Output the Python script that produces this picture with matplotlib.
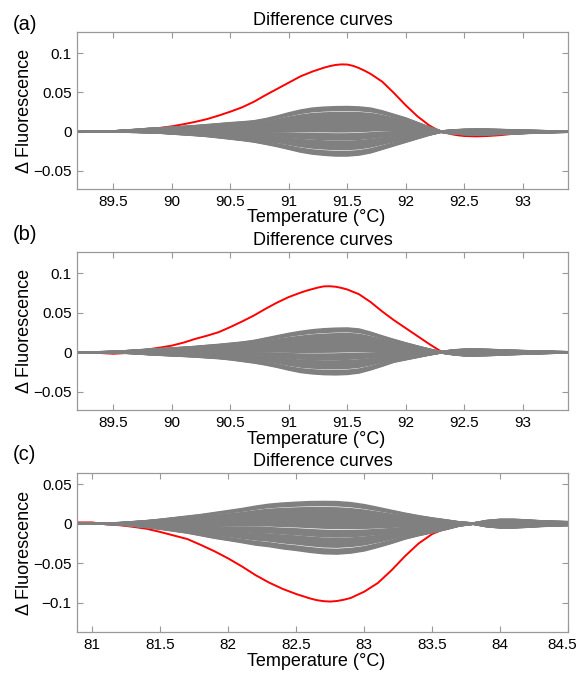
import matplotlib
matplotlib.use("Agg")
import matplotlib.pyplot as plt
import matplotlib.transforms as mtransforms
import numpy as np

plt.rcParams['font.family'] = ['Liberation Sans', 'DejaVu Sans']

# ---------------- data ----------------
temps_ab = [89.2, 89.3, 89.4, 89.5, 89.6, 89.7, 89.8, 89.9, 90.0, 90.1, 90.2,
            90.3, 90.4, 90.5, 90.6, 90.7, 90.8, 90.9, 91.0, 91.1, 91.2, 91.3,
            91.4, 91.5, 91.6, 91.7, 91.8, 91.9, 92.0, 92.1, 92.2, 92.3, 92.4,
            92.5, 92.6, 92.7, 92.8, 92.9, 93.0, 93.1, 93.2, 93.3, 93.4]

red_temps_a = [89.2, 89.3, 89.4, 89.5, 89.6, 89.7, 89.8, 89.9, 90.0, 90.1, 90.2,
               90.3, 90.4, 90.5, 90.6, 90.7, 90.8, 90.9, 91.0, 91.1, 91.2, 91.3,
               91.35, 91.4, 91.45, 91.5, 91.55, 91.6, 91.65, 91.7, 91.8, 91.9,
               92.0, 92.1, 92.2, 92.25, 92.3, 92.35, 92.4, 92.45, 92.5, 92.6,
               92.7, 92.8, 92.9, 93.0, 93.1, 93.2, 93.3, 93.4]
red_a = [0.0, 0.0, 0.0002, 0.0005, 0.001, 0.0018, 0.003, 0.0048, 0.0068, 0.0095,
         0.0125, 0.016, 0.0205, 0.0255, 0.031, 0.038, 0.0465, 0.0545, 0.0625,
         0.0705, 0.0765, 0.0815, 0.0835, 0.085, 0.0857, 0.0855, 0.0838, 0.081,
         0.0775, 0.0735, 0.0635, 0.049, 0.0335, 0.0195, 0.008, 0.0038, 0.0005,
         -0.0018, -0.0035, -0.0047, -0.0055, -0.006, -0.0055, -0.0045, -0.003,
         -0.002, -0.001, -0.0005, 0.0, 0.0]
upper_a = [0.0, 0.0002, 0.0005, 0.001, 0.002, 0.003, 0.0042, 0.005, 0.0058,
           0.0068, 0.0078, 0.009, 0.0102, 0.0115, 0.0125, 0.0138, 0.0165, 0.020,
           0.024, 0.0275, 0.030, 0.0312, 0.0318, 0.032, 0.0315, 0.030, 0.0265,
           0.022, 0.0175, 0.0118, 0.006, 0.0008, 0.0022, 0.003, 0.0033, 0.0032,
           0.0028, 0.0024, 0.002, 0.0016, 0.0012, 0.0009, 0.0006]
lower_a = [0.0, -0.0001, -0.0002, -0.0004, -0.0007, -0.001, -0.0015, -0.002,
           -0.003, -0.004, -0.005, -0.0062, -0.0078, -0.0095, -0.0112, -0.0132,
           -0.016, -0.019, -0.0225, -0.026, -0.0285, -0.030, -0.031, -0.031,
           -0.0298, -0.027, -0.0225, -0.018, -0.0135, -0.009, -0.0045, -0.0008,
           -0.0028, -0.0038, -0.0042, -0.004, -0.0035, -0.003, -0.0024, -0.0019,
           -0.0014, -0.001, -0.0007]

red_temps_b = [89.2, 89.3, 89.4, 89.5, 89.6, 89.7, 89.8, 89.9, 90.0, 90.1, 90.2,
               90.3, 90.4, 90.5, 90.6, 90.7, 90.8, 90.9, 91.0, 91.1, 91.15, 91.2,
               91.25, 91.3, 91.35, 91.4, 91.45, 91.5, 91.6, 91.7, 91.8, 91.9, 92.0,
               92.1, 92.2, 92.3, 92.4, 92.5, 92.6, 92.7, 92.8, 92.9, 93.0, 93.1,
               93.2, 93.3, 93.4]
red_b = [0.0, 0.0, -0.001, -0.0018, -0.001, 0.0012, 0.0038, 0.006, 0.0085, 0.0123,
         0.017, 0.021, 0.0255, 0.032, 0.039, 0.0465, 0.055, 0.063, 0.070, 0.0755,
         0.078, 0.080, 0.082, 0.0835, 0.0836, 0.083, 0.0815, 0.0795, 0.0735,
         0.0635, 0.0515, 0.0405, 0.0305, 0.0205, 0.0105, 0.0012, -0.001, -0.002,
         -0.002, -0.0015, -0.001, -0.0005, 0.0, 0.0, 0.0, 0.0, 0.0]
upper_b = [0.0003, 0.0005, 0.0008, 0.0012, 0.002, 0.003, 0.004, 0.0048, 0.0055,
           0.0065, 0.0075, 0.0088, 0.010, 0.0115, 0.013, 0.015, 0.018, 0.021,
           0.024, 0.0265, 0.0285, 0.0298, 0.0305, 0.0308, 0.0295, 0.0255, 0.0207,
           0.0162, 0.012, 0.008, 0.0042, 0.0008, 0.003, 0.004, 0.0042, 0.0038,
           0.0032, 0.0027, 0.0022, 0.0018, 0.0014, 0.001, 0.0007]
lower_b = [-0.0003, -0.0004, -0.0005, -0.0007, -0.0012, -0.002, -0.003, -0.0038,
           -0.0045, -0.0052, -0.006, -0.007, -0.008, -0.0095, -0.0115, -0.0135,
           -0.016, -0.019, -0.0225, -0.0255, -0.0272, -0.0282, -0.0285, -0.028,
           -0.0262, -0.0222, -0.0175, -0.0125, -0.0095, -0.0065, -0.0035, -0.0008,
           -0.003, -0.0045, -0.0046, -0.0042, -0.0036, -0.003, -0.0025, -0.002,
           -0.0015, -0.0011, -0.0007]

temps_c = [80.9, 81.0, 81.1, 81.2, 81.3, 81.4, 81.5, 81.6, 81.7, 81.8, 81.9, 82.0,
           82.1, 82.2, 82.3, 82.4, 82.5, 82.6, 82.7, 82.8, 82.9, 83.0, 83.1, 83.2,
           83.3, 83.4, 83.5, 83.6, 83.7, 83.8, 83.9, 84.0, 84.1, 84.2, 84.3, 84.4,
           84.5]
red_temps_c = [80.9, 81.0, 81.1, 81.2, 81.3, 81.4, 81.5, 81.6, 81.7, 81.8, 81.9,
               82.0, 82.1, 82.2, 82.3, 82.4, 82.5, 82.6, 82.65, 82.7, 82.75, 82.8,
               82.85, 82.9, 83.0, 83.1, 83.2, 83.3, 83.4, 83.5, 83.6, 83.7, 83.8,
               83.9, 84.0, 84.1, 84.2, 84.3, 84.4, 84.5]
red_c = [0.0015, 0.0015, -0.0008, -0.002, -0.004, -0.0065, -0.0105, -0.015,
         -0.0195, -0.027, -0.035, -0.044, -0.054, -0.065, -0.0745, -0.0825,
         -0.089, -0.0945, -0.0967, -0.098, -0.0985, -0.0978, -0.0962, -0.094,
         -0.086, -0.075, -0.059, -0.041, -0.025, -0.013, -0.006, -0.002, 0.0,
         0.001, 0.0015, 0.0015, 0.001, 0.0005, 0.0, 0.0]
upper_c = [0.0003, 0.0003, 0.0007, 0.0013, 0.0025, 0.0038, 0.0055, 0.0075, 0.0095,
           0.0115, 0.014, 0.0165, 0.019, 0.022, 0.0245, 0.026, 0.027, 0.0278,
           0.028, 0.0278, 0.0265, 0.024, 0.0205, 0.0168, 0.0132, 0.010, 0.0072,
           0.0048, 0.0022, 0.0008, 0.004, 0.0055, 0.0055, 0.0046, 0.0036, 0.003,
           0.0025]
lower_c = [-0.0003, -0.0004, -0.0009, -0.0016, -0.0032, -0.005, -0.007, -0.0095,
           -0.012, -0.0152, -0.0185, -0.0212, -0.024, -0.027, -0.029, -0.0318,
           -0.0338, -0.0362, -0.038, -0.0385, -0.0372, -0.0345, -0.030, -0.025,
           -0.0195, -0.0152, -0.0115, -0.0075, -0.003, -0.0008, -0.004, -0.0055,
           -0.0055, -0.0046, -0.0036, -0.003, -0.0025]

# relative position of each grey curve inside the band (0 = lower edge, 1 = upper edge)
grey_positions = [0.00, 0.015, 0.03, 0.045, 0.06, 0.075, 0.09, 0.132, 0.147, 0.162,
                  0.177, 0.192, 0.207, 0.222, 0.237, 0.252, 0.267, 0.282, 0.297,
                  0.327, 0.342, 0.357, 0.372, 0.387, 0.402, 0.417, 0.432, 0.447,
                  0.49, 0.505, 0.52, 0.535, 0.55, 0.565, 0.58, 0.595, 0.61, 0.625,
                  0.64, 0.655, 0.67, 0.685, 0.70, 0.715, 0.73, 0.745, 0.76, 0.775,
                  0.79, 0.805, 0.82, 0.835, 0.85, 0.865, 0.88, 0.922, 0.937, 0.952,
                  0.967, 0.982, 1.0]

xticks_ab = [89.5, 90, 90.5, 91, 91.5, 92, 92.5, 93]
xticklabels_ab = ['89.5', '90', '90.5', '91', '91.5', '92', '92.5', '93']
yticks_ab = [-0.05, 0, 0.05, 0.1]
yticklabels_ab = ['\u22120.05', '0', '0.05', '0.1']
xticks_c = [81, 81.5, 82, 82.5, 83, 83.5, 84, 84.5]
xticklabels_c = ['81', '81.5', '82', '82.5', '83', '83.5', '84', '84.5']
yticks_c = [-0.1, -0.05, 0, 0.05]
yticklabels_c = ['\u22120.1', '\u22120.05', '0', '0.05']

panels = [
    dict(tag='(a)', x=temps_ab, rx=red_temps_a, red=red_a, up=upper_a, lo=lower_a,
         xlim=(89.19, 93.39), ylim=(-0.073, 0.127),
         xt=xticks_ab, xtl=xticklabels_ab, yt=yticks_ab, ytl=yticklabels_ab,
         rect=[0.133, 0.7192, 0.847, 0.2333], tagy=1 - 24 / 673),
    dict(tag='(b)', x=temps_ab, rx=red_temps_b, red=red_b, up=upper_b, lo=lower_b,
         xlim=(89.19, 93.39), ylim=(-0.073, 0.127),
         xt=xticks_ab, xtl=xticklabels_ab, yt=yticks_ab, ytl=yticklabels_ab,
         rect=[0.133, 0.3908, 0.847, 0.2348], tagy=1 - 235 / 673),
    dict(tag='(c)', x=temps_c, rx=red_temps_c, red=red_c, up=upper_c, lo=lower_c,
         xlim=(80.89, 84.5), ylim=(-0.137, 0.064),
         xt=xticks_c, xtl=xticklabels_c, yt=yticks_c, ytl=yticklabels_c,
         rect=[0.133, 0.0609, 0.847, 0.2363], tagy=1 - 455 / 673),
]

# ---------------- figure ----------------
fig = plt.figure(figsize=(5.8, 6.73), dpi=100)
frame = '#999999'
grey = '#808080'

for p in panels:
    ax = fig.add_axes(p['rect'])
    x = np.array(p['x'])
    up = np.array(p['up'])
    lo = np.array(p['lo'])
    ax.plot(p['rx'], p['red'], color='#ff0000', lw=1.4, zorder=2,
            solid_joinstyle='round')
    for f in grey_positions:
        ax.plot(x, lo + f * (up - lo), color=grey, lw=1.1, zorder=3,
                solid_capstyle='butt')
    ax.set_xlim(*p['xlim'])
    ax.set_ylim(*p['ylim'])
    ax.set_xticks(p['xt'], labels=p['xtl'])
    ax.set_yticks(p['yt'], labels=p['ytl'])
    ax.tick_params(direction='in', length=4, width=0.8, color=frame,
                   labelsize=11, pad=4, top=True, right=True, labelcolor='black')
    for s in ax.spines.values():
        s.set_color(frame)
        s.set_linewidth(0.9)
    ax.set_title('Difference curves', fontsize=13, pad=5)
    ax.set_xlabel('Temperature (\u00b0C)', fontsize=13, labelpad=0)
    ax.xaxis.set_label_coords(0.487, -0.13)
    ax.xaxis.label.set_va('top')
    ax.set_ylabel('\u0394 Fluorescence', fontsize=13, labelpad=0)
    fig.text(0.022, p['tagy'], p['tag'], fontsize=14.5, ha='left', va='center')
    if p['tag'] == '(c)':
        last = ax.get_xticklabels()[-1]
        last.set_transform(last.get_transform() +
                           mtransforms.ScaledTranslation(-6 / 100, 0,
                                                         fig.dpi_scale_trans))

fig.savefig('out.png', dpi=100)
